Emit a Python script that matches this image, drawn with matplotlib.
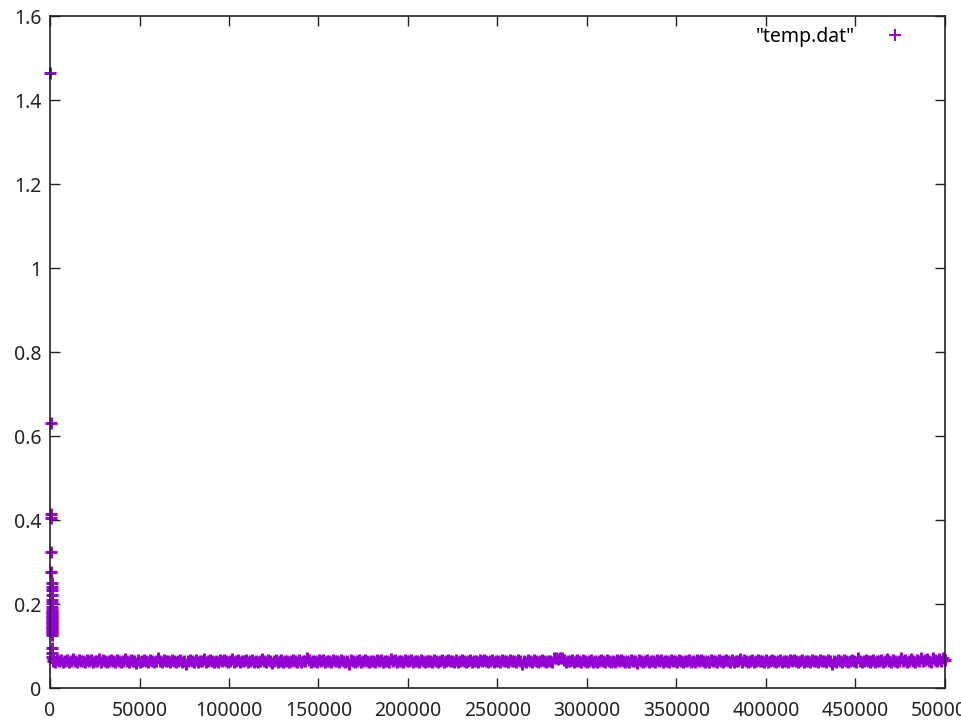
import numpy as np
import matplotlib
matplotlib.use("Agg")
import matplotlib.pyplot as plt
from matplotlib.ticker import FuncFormatter

# first samples, before the run settles
early_x = [0, 300, 500, 600, 700, 800, 900, 950, 1000, 1000, 1000, 1000, 1000,
           1000, 1000, 1000, 1000, 1000, 1000, 1000, 1000, 1000, 1000, 1000, 1000,
           1000, 1000, 1000, 1000, 1100, 1200, 1300, 1400]
early_y = [1.465, 0.63, 0.415, 0.405, 0.325, 0.277, 0.25, 0.24, 0.233, 0.221, 0.21,
           0.202, 0.193, 0.186, 0.182, 0.178, 0.174, 0.17, 0.166, 0.162, 0.158,
           0.154, 0.15, 0.146, 0.142, 0.138, 0.134, 0.13, 0.127, 0.095, 0.083,
           0.075, 0.07]

# steady part of the run, values in units of 1e-3
band_milli = [
    65, 63, 66, 64, 67, 62, 65, 66, 63, 64, 68, 65, 62, 66, 64, 65, 63, 67, 64, 66, 62, 65, 64, 70, 63, 66, 65, 61, 64, 67,
    65, 63, 66, 64, 62, 65, 68, 64, 63, 66, 65, 64, 59, 66, 63, 65, 67, 64, 62, 66, 65, 63, 64, 71, 65, 62, 66, 64, 65, 63,
    67, 64, 62, 65, 66, 63, 64, 58, 65, 67, 64, 63, 66, 62, 65, 64, 68, 63, 65, 66, 64, 62, 65, 63, 67, 64, 66, 65, 62, 64,
    70, 63, 65, 66, 61, 64, 65, 67, 63, 64, 66, 63, 65, 62, 64, 68, 65, 63, 66, 64, 59, 65, 67, 63, 64, 66, 62, 65, 64, 63,
    65, 67, 64, 62, 66, 63, 65, 64, 71, 66, 62, 64, 65, 63, 67, 64, 66, 62, 65, 64, 63, 66, 64, 65, 62, 67, 64, 63, 65, 58,
    66, 64, 62, 65, 67, 63, 64, 66, 65, 62, 64, 65, 63, 67, 64, 66, 62, 65, 64, 63, 68, 65, 66, 62, 64, 65, 63, 67, 64, 65,
    66, 63, 64, 65, 62, 66, 64, 63, 65, 64, 65, 63, 66, 64, 62, 65, 67, 63, 64, 66, 65, 64, 62, 66, 63, 65, 67, 64, 63, 65,
    66, 62, 64, 65, 63, 67, 64, 66, 65, 63, 64, 66, 62, 65, 64, 63, 67, 65, 64, 62, 66, 64, 65, 63, 66, 64, 58, 65, 63, 66,
    65, 63, 67, 64, 62, 65, 66, 64, 63, 65, 64, 62, 71, 72, 70, 71, 72, 66, 62, 65, 64, 66, 63, 65, 67, 64, 62, 66, 65, 63,
    64, 66, 63, 65, 62, 64, 67, 65, 63, 66, 64, 62, 65, 63, 67, 64, 66, 65, 62, 64, 63, 66, 64, 65, 59, 67, 64, 63, 65, 66,
    62, 65, 64, 63, 67, 64, 66, 62, 65, 64, 63, 66, 64, 65, 62, 67, 64, 63, 65, 64, 66, 62, 65, 63, 67, 64, 66, 65, 62, 64,
    63, 66, 64, 65, 62, 66, 64, 63, 65, 67, 64, 62, 66, 63, 65, 64, 70, 63, 66, 64, 62, 65, 67, 63, 64, 66, 65, 64, 62, 66,
    63, 65, 67, 64, 63, 65, 66, 62, 64, 65, 63, 67, 64, 66, 65, 63, 64, 66, 62, 65, 64, 63, 67, 65, 64, 62, 66, 64, 65, 63,
    66, 64, 58, 65, 63, 66, 65, 63, 67, 64, 62, 65, 66, 64, 63, 71, 65, 62, 64, 66, 65, 63, 64, 67, 62, 65, 64, 66, 63, 65,
    70, 64, 62, 66, 65, 63, 64, 71, 65, 66, 63, 64, 70, 65, 62, 66, 65, 71, 64, 66, 70, 65, 63, 71, 66, 64, 70, 65, 71, 66,
]
band_x = np.linspace(1700, 500000, len(band_milli))
band_y = np.array(band_milli) / 1000.0

x = np.concatenate([early_x, band_x])
y = np.concatenate([early_y, band_y])

plt.rcParams['font.family'] = ['Noto Sans', 'DejaVu Sans']
plt.rcParams['font.size'] = 14

fig = plt.figure(figsize=(9.62, 7.28), dpi=100)
ax = fig.add_axes([50/962, 40/728, 895/962, 672/728])

ax.plot(x, y, linestyle='none', marker='+', color='#9400d3',
        markersize=8.5, markeredgewidth=2.1, label='"temp.dat"', clip_on=False)

ax.set_xlim(0, 500000)
ax.set_ylim(0, 1.6)
ax.set_xticks(np.arange(0, 500001, 50000))
ax.set_yticks(np.arange(0, 1.61, 0.2))
ax.yaxis.set_major_formatter(FuncFormatter(lambda v, p: '%g' % round(v, 3)))
ax.xaxis.set_major_formatter(FuncFormatter(lambda v, p: '%d' % v))
ax.tick_params(direction='in', top=True, right=True, length=7.5, width=1.0,
               labelsize=14, colors='#222222', pad=6)
ax.tick_params(axis='x', pad=9)
for s in ax.spines.values():
    s.set_linewidth(1.2)
    s.set_color('#222222')

leg = ax.legend(loc='upper right', frameon=False, markerfirst=False, handlelength=2.53,
                handletextpad=0.8, borderaxespad=0,
                bbox_to_anchor=(1 - 17.7/895, 1 - 3/672), fontsize=14)
for h in leg.legend_handles:
    h.set_markeredgewidth(1.4)

fig.savefig('out.png', dpi=100)
